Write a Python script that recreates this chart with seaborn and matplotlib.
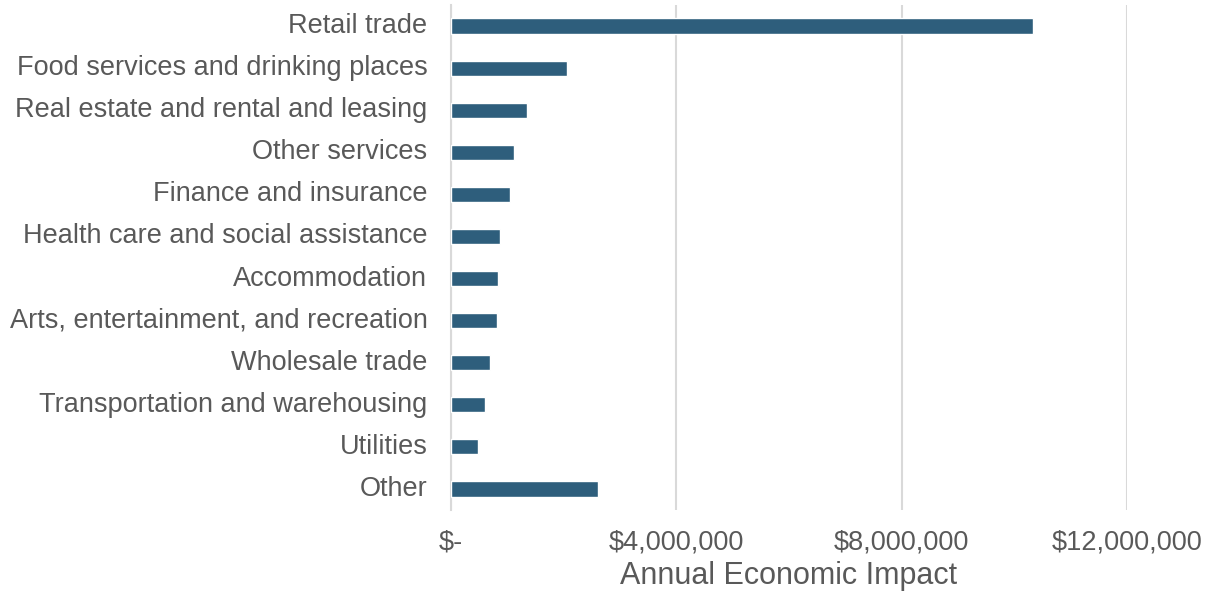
import matplotlib
matplotlib.use("Agg")
import matplotlib.pyplot as plt
import seaborn as sns
import pandas as pd
from matplotlib.ticker import FuncFormatter

categories = [
    "Retail trade",
    "Food services and drinking places",
    "Real estate and rental and leasing",
    "Other services",
    "Finance and insurance",
    "Health care and social assistance",
    "Accommodation",
    "Arts, entertainment, and recreation",
    "Wholesale trade",
    "Transportation and warehousing",
    "Utilities",
    "Other",
]
impact = [10340000, 2060000, 1350000, 1120000, 1050000, 870000,
          830000, 820000, 690000, 600000, 480000, 2610000]
x_ticks = [0, 4000000, 8000000, 12000000]

df = pd.DataFrame({"category": categories, "impact": impact})

sns.set_theme(style="white")
plt.rcParams["font.family"] = ["Liberation Sans", "DejaVu Sans"]

fig = plt.figure(figsize=(12.11, 5.95), dpi=100)
ax = fig.add_axes([451 / 1211, 0.1429, (1127 - 451) / 1211, 0.8487])

sns.barplot(data=df, x="impact", y="category", order=categories,
            color="#2E5E7C", saturation=1, width=0.36, ax=ax, zorder=3)

ax.set_xlim(0, 12e6)
ax.set_ylim(11.5, -0.5)
ax.set_xticks(x_ticks)

def fmt(v, pos):
    if v == 0:
        return "$-"
    return "${:,.0f}".format(v)

ax.xaxis.set_major_formatter(FuncFormatter(fmt))
ax.grid(axis="x", color="#D9D9D9", linewidth=1.5, zorder=0)
ax.grid(axis="y", visible=False)
for s in ["top", "right", "bottom"]:
    ax.spines[s].set_visible(False)
ax.spines["left"].set_color("#D9D9D9")
ax.spines["left"].set_linewidth(1.5)

ax.tick_params(axis="both", length=0, labelsize=19.5, labelcolor="#595959")
ax.tick_params(axis="x", pad=14)
ax.tick_params(axis="y", pad=17)
for lbl in ax.get_yticklabels():
    lbl.set_verticalalignment("center")
ax.set_ylabel("")
ax.set_xlabel("Annual Economic Impact", fontsize=22, color="#595959", labelpad=4)

fig.savefig("out.png", dpi=100)
